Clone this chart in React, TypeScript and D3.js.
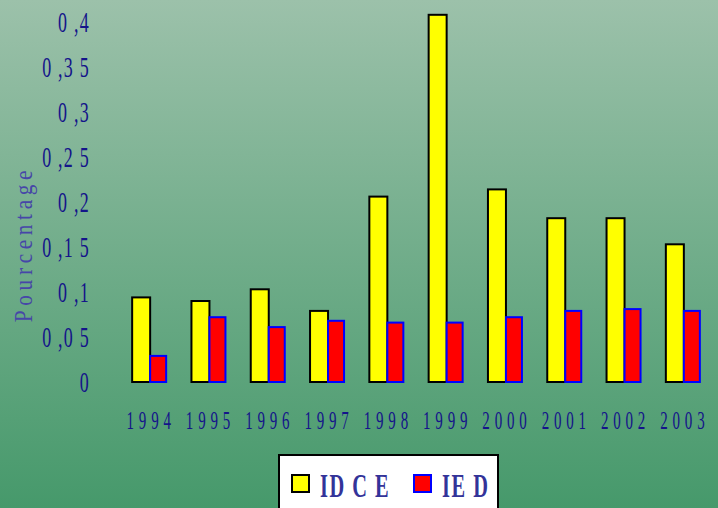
import React, { useEffect, useRef } from 'react';
import * as d3 from 'd3';

const years = ['1994', '1995', '1996', '1997', '1998', '1999', '2000', '2001', '2002', '2003'];
const idce = [0.094, 0.09, 0.103, 0.079, 0.206, 0.408, 0.214, 0.182, 0.182, 0.153];
const ied = [0.029, 0.072, 0.061, 0.068, 0.066, 0.066, 0.072, 0.079, 0.081, 0.079];
const yTicks = [0, 0.05, 0.1, 0.15, 0.2, 0.25, 0.3, 0.35, 0.4];
const seriesNames = ['ID C E', 'IE D'];

const W = 718;
const H = 508;

const fmt = (v: number) => {
  if (v === 0) return '0';
  const s = String(+v.toFixed(2)).replace('0.', '');
  return '0 ,' + s.split('').join(' ');
};

const App: React.FC = () => {
  const svgRef = useRef<SVGSVGElement>(null);

  useEffect(() => {
    if (!svgRef.current) return;
    const root = d3.select(svgRef.current);
    root.selectAll('*').remove();

    const defs = root.append('defs');
    const grad = defs
      .append('linearGradient')
      .attr('id', 'bg')
      .attr('x1', 0)
      .attr('y1', 0)
      .attr('x2', 0)
      .attr('y2', 1);
    grad.append('stop').attr('offset', '0%').attr('stop-color', '#9cc1aa');
    grad.append('stop').attr('offset', '100%').attr('stop-color', '#46996b');

    root.append('rect').attr('width', W).attr('height', H).attr('fill', 'url(#bg)');

    const x = d3.scaleBand<string>().domain(years).range([120.5, 713.5]);
    const y = d3.scaleLinear().domain([0, 0.4]).range([382, 22]);

    const g = root.append('g');

    // Y tick labels (tall, condensed)
    g.selectAll('.ytick')
      .data(yTicks)
      .enter()
      .append('text')
      .attr('transform', d => `translate(90, ${y(d) + 10}) scale(0.62, 1)`)
      .attr('text-anchor', 'end')
      .attr('font-family', 'Liberation Serif, serif')
      .attr('font-size', 29)
      .attr('letter-spacing', 2)
      .attr('fill', '#14148a')
      .text(d => fmt(d));

    // Y axis title
    g.append('text')
      .attr('transform', 'translate(32, 244) rotate(-90) scale(0.85, 1)')
      .attr('text-anchor', 'middle')
      .attr('font-family', 'Liberation Serif, serif')
      .attr('font-size', 25)
      .attr('letter-spacing', 5.5)
      .attr('fill', '#4646a8')
      .text('Pourcentage');

    const center = (d: string) => (x(d) as number) + x.bandwidth() / 2;

    // Yellow bars
    g.selectAll('.b1')
      .data(idce)
      .enter()
      .append('rect')
      .attr('x', (d, i) => center(years[i]) - 18)
      .attr('y', d => y(d))
      .attr('width', 18)
      .attr('height', d => y(0) - y(d))
      .attr('fill', '#ffff00')
      .attr('stroke', '#000')
      .attr('stroke-width', 2);

    // Red bars
    g.selectAll('.b2')
      .data(ied)
      .enter()
      .append('rect')
      .attr('x', (d, i) => center(years[i]))
      .attr('y', d => y(d))
      .attr('width', 16)
      .attr('height', d => y(0) - y(d))
      .attr('fill', '#ff0000')
      .attr('stroke', '#0000ff')
      .attr('stroke-width', 2);

    // Year labels
    g.selectAll('.xl')
      .data(years)
      .enter()
      .append('text')
      .attr('transform', d => `translate(${center(d) + 1}, 429) scale(0.6, 1)`)
      .attr('text-anchor', 'middle')
      .attr('font-family', 'Liberation Serif, serif')
      .attr('font-size', 25)
      .attr('letter-spacing', 8)
      .attr('fill', '#14148a')
      .text(d => d);

    // Legend
    const lg = root.append('g');
    lg.append('rect')
      .attr('x', 279)
      .attr('y', 455)
      .attr('width', 219)
      .attr('height', 60)
      .attr('fill', '#fff')
      .attr('stroke', '#000')
      .attr('stroke-width', 2);

    const items = [
      { name: seriesNames[0], fill: '#ffff00', stroke: '#000', x: 292, tx: 320 },
      { name: seriesNames[1], fill: '#ff0000', stroke: '#0000ff', x: 414, tx: 442 },
    ];
    items.forEach(it => {
      lg.append('rect')
        .attr('x', it.x)
        .attr('y', 475)
        .attr('width', 17)
        .attr('height', 17)
        .attr('fill', it.fill)
        .attr('stroke', it.stroke)
        .attr('stroke-width', 2);
      lg.append('text')
        .attr('transform', `translate(${it.tx}, 497) scale(0.6, 1)`)
        .attr('font-family', 'Liberation Serif, serif')
        .attr('font-size', 34)
        .attr('font-weight', 'bold')
        .attr('letter-spacing', 2.5)
        .attr('fill', '#333399')
        .text(it.name);
    });
  }, []);

  return (
    <svg
      ref={svgRef}
      width={W}
      height={H}
      style={{ position: 'absolute', left: 0, top: 0 }}
    />
  );
};

export default App;
